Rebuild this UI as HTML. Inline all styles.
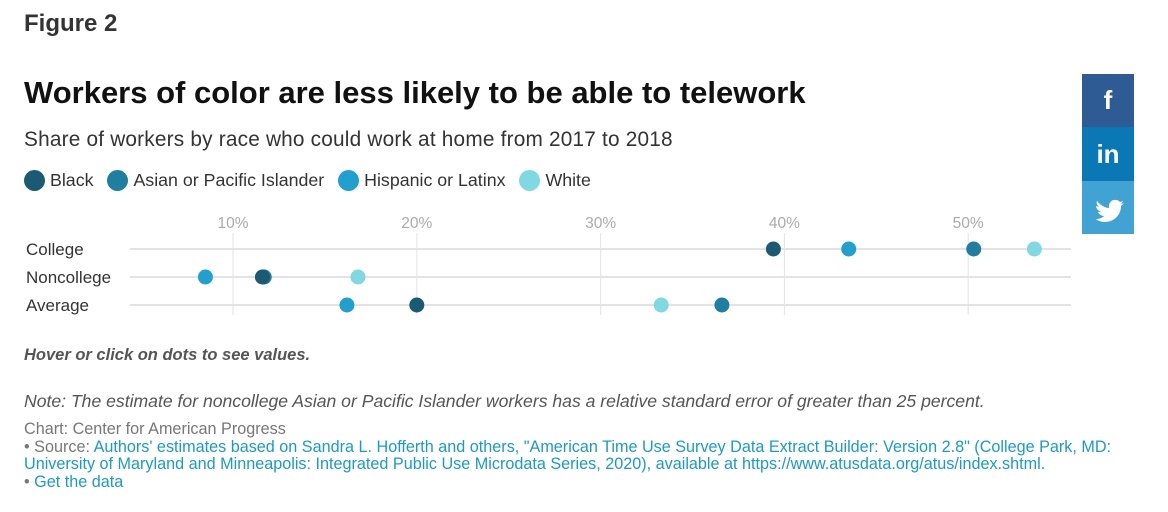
<!DOCTYPE html>
<html><head><meta charset="utf-8"><style>
body{margin:0;width:1168px;height:512px;background:#fff;font-family:"Liberation Sans",sans-serif;position:relative;overflow:hidden}
.a{position:absolute;white-space:nowrap}
.leg{display:inline-flex;align-items:center;margin-right:9px}
.leg i{width:21px;height:21px;border-radius:50%;display:inline-block;margin-right:5px}
.soc{position:absolute;left:1082px;width:52px;color:#fff;font-weight:bold;font-size:26px;text-align:center}
a{color:#1a9bc4;text-decoration:none}
</style></head><body>
<div class="a" style="left:24px;top:10px;font-size:24px;font-weight:bold;color:#333">Figure 2</div>
<div class="a" style="left:24px;top:75px;font-size:31px;font-weight:bold;color:#111">Workers of color are less likely to be able to telework</div>
<div class="a" style="left:24px;top:128px;font-size:20.8px;color:#333;letter-spacing:0.2px">Share of workers by race who could work at home from 2017 to 2018</div>
<div class="a" style="left:24px;top:170px;font-size:17.8px;color:#333">
<span class="leg"><i style="background:#1a5a73"></i>Black</span>
<span class="leg"><i style="background:#1f7fa0"></i>Asian or Pacific Islander</span>
<span class="leg"><i style="background:#1fa0cf"></i>Hispanic or Latinx</span>
<span class="leg"><i style="background:#7fd9e0"></i>White</span>
</div>
<div class="soc" style="top:74px;height:53px;line-height:53px;background:#2f5b94">f</div>
<div class="soc" style="top:127px;height:54px;line-height:54px;background:#0a78b4">in</div>
<div class="soc" style="top:181px;height:53px;background:#40a3d3">
<svg width="52" height="53" viewBox="0 0 52 53"><path d="M15 20c4 5 9 7 12 7-1-5 3-9 7-8 2 0 3 1 4 2l3-1-2 3 3-1-3 3c0 9-7 16-16 16-3 0-7-1-9-3 3 0 6-1 8-3-3 0-5-2-6-4h3c-3-1-5-4-5-6l3 1c-2-2-3-5-2-6z" fill="#fff"/></svg></div>
<svg id="chart" class="a" style="left:0;top:0" width="1168" height="340"></svg>
<div class="a" style="left:24px;top:346px;font-size:16.5px;font-style:italic;font-weight:bold;color:#555">Hover or click on dots to see values.</div>
<div class="a" style="left:24px;top:391px;font-size:17.6px;font-style:italic;color:#555">Note: The estimate for noncollege Asian or Pacific Islander workers has a relative standard error of greater than 25 percent.</div>
<div class="a" style="left:24px;top:421px;font-size:16.2px;color:#777;line-height:17.5px">Chart: Center for American Progress<br>• Source: <a>Authors' estimates based on Sandra L. Hofferth and others, "American Time Use Survey Data Extract Builder: Version 2.8" (College Park, MD:</a><br><a>University of Maryland and Minneapolis: Integrated Public Use Microdata Series, 2020), available at https://www.atusdata.org/atus/index.shtml.</a><br>• <a>Get the data</a></div>
<script>
const rows=["College","Noncollege","Average"];
const ticks=[10,20,30,40,50];
const black=[39.4,11.6,20.0];
const asian=[50.3,11.7,36.6];
const hispanic=[43.5,8.5,16.2];
const white=[53.6,16.8,33.3];
const series=[["white",white,"#7fd9e0"],["hispanic",hispanic,"#1fa0cf"],["asian",asian,"#1f7fa0"],["black",black,"#1a5a73"]];
const x=v=>233+(v-10)*18.38, y=i=>249+i*28;
const svg=document.getElementById('chart'),NS="http://www.w3.org/2000/svg";
function mk(t,a){const e=document.createElementNS(NS,t);for(const k in a)e.setAttribute(k,a[k]);svg.appendChild(e);return e;}
ticks.forEach(t=>{
 const l=mk('line',{x1:x(t),x2:x(t),y1:233,y2:315,stroke:'#e3e3e3','stroke-width':1});
 
 
 const tx=mk('text',{x:x(t),y:228,'text-anchor':'middle','font-size':15.5,fill:'#aaa','font-family':'Liberation Sans'});
 tx.textContent=t+'%';
 
 
});
rows.forEach((r,i)=>{
 const l=mk('line',{x1:130,x2:1071,y1:y(i),y2:y(i),stroke:'#e3e3e3','stroke-width':2});
 
 
 const tx=mk('text',{x:26,y:y(i)+6,'font-size':17,fill:'#333','font-family':'Liberation Sans'});
 tx.textContent=r;
 
 
});
series.forEach(([n,vals,c])=>vals.forEach((v,i)=>{
 const d=mk('circle',{cx:x(v),cy:y(i),r:7.5,fill:c});
 
 
}));
</script>
</body></html>
